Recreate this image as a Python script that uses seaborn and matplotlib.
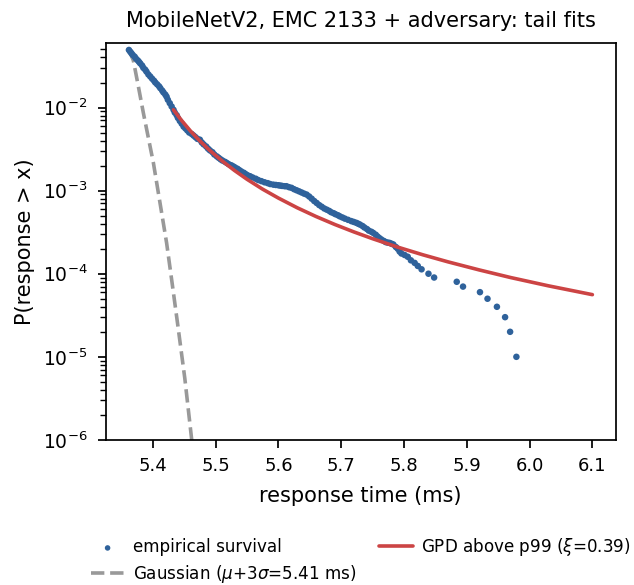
import matplotlib
matplotlib.use("Agg")
import matplotlib.pyplot as plt
import seaborn as sns
import pandas as pd

# ---- data ----
emp_x = [5.362, 5.364, 5.366, 5.368, 5.371, 5.373, 5.376, 5.378, 5.380, 5.383,
         5.385, 5.388, 5.390, 5.393, 5.396, 5.399, 5.402, 5.404, 5.407, 5.410,
         5.412, 5.415, 5.417, 5.420, 5.422, 5.424, 5.427, 5.430, 5.433, 5.435,
         5.438, 5.440, 5.443, 5.446, 5.449, 5.452, 5.455, 5.458, 5.462, 5.465,
         5.468, 5.471, 5.475, 5.478, 5.481, 5.485, 5.488, 5.491, 5.495, 5.498,
         5.502, 5.505, 5.508, 5.511, 5.515, 5.518, 5.521, 5.525, 5.528, 5.531,
         5.535, 5.538, 5.541, 5.545, 5.548, 5.551, 5.555, 5.559, 5.564, 5.568,
         5.573, 5.578, 5.583, 5.587, 5.592, 5.596, 5.600, 5.603, 5.606, 5.610,
         5.613, 5.617, 5.621, 5.625, 5.629, 5.633, 5.637, 5.641, 5.645, 5.649,
         5.653, 5.657, 5.661, 5.665, 5.669, 5.673, 5.677, 5.681, 5.684, 5.688,
         5.691, 5.695, 5.698, 5.702, 5.706, 5.711, 5.716, 5.720, 5.724, 5.727,
         5.730, 5.734, 5.737, 5.741, 5.744, 5.748, 5.751, 5.755, 5.758, 5.761,
         5.764, 5.768, 5.771, 5.774, 5.777, 5.780, 5.783, 5.787, 5.790, 5.793,
         5.796, 5.801, 5.806, 5.811, 5.817, 5.822, 5.828, 5.839, 5.848, 5.884,
         5.894, 5.921, 5.933, 5.948, 5.961, 5.969, 5.979]
emp_y = [0.0493, 0.047, 0.045, 0.043, 0.041, 0.039, 0.037, 0.0355, 0.034, 0.032,
         0.030, 0.0285, 0.027, 0.025, 0.0236, 0.0222, 0.021, 0.020, 0.019, 0.018,
         0.0171, 0.016, 0.0152, 0.0143, 0.0135, 0.0124, 0.0113, 0.0103, 0.0094, 0.0087,
         0.0081, 0.0075, 0.0069, 0.0064, 0.0059, 0.0056, 0.0053, 0.0050, 0.0048, 0.0046,
         0.0044, 0.0042, 0.0041, 0.0038, 0.0036, 0.0034, 0.0032, 0.00305, 0.0029, 0.00272,
         0.00258, 0.00248, 0.00238, 0.0023, 0.00222, 0.00215, 0.00208, 0.00202, 0.00196, 0.0019,
         0.00183, 0.00176, 0.0017, 0.00164, 0.00158, 0.00153, 0.00149, 0.00144, 0.00139, 0.00134,
         0.0013, 0.00126, 0.00123, 0.0012, 0.00118, 0.00117, 0.00116, 0.00115, 0.00114, 0.00113,
         0.00113, 0.0011, 0.00108, 0.00104, 0.00101, 0.00098, 0.00095, 0.00092, 0.000896, 0.00085,
         0.0008, 0.00075, 0.00071, 0.00067, 0.00064, 0.00061, 0.00059, 0.00057, 0.00055, 0.000535,
         0.00052, 0.000505, 0.00049, 0.000475, 0.00046, 0.000445, 0.00043, 0.00042, 0.00041, 0.0004,
         0.00039, 0.000375, 0.00036, 0.000345, 0.00033, 0.00032, 0.00031, 0.000295, 0.00028, 0.000268,
         0.000258, 0.000248, 0.00024, 0.000237, 0.000235, 0.00023, 0.000225, 0.00021, 0.0002, 0.000185,
         0.000175, 0.000168, 0.00016, 0.000145, 0.000135, 0.000124, 0.000113, 0.0001, 9e-5, 8e-5,
         7e-5, 6e-5, 5e-5, 4e-5, 3e-5, 2e-5, 1e-5]

gpd_x = [5.433, 5.445, 5.460, 5.475, 5.490, 5.510, 5.530, 5.550, 5.575, 5.600, 5.630,
         5.660, 5.690, 5.720, 5.750, 5.790, 5.830, 5.870, 5.920, 5.970, 6.030, 6.100]
gpd_y = [0.0094, 0.00712, 0.00522, 0.00396, 0.00308, 0.00229, 0.00175, 0.00137, 0.00104, 0.000814, 0.000622,
         0.000488, 0.000391, 0.000319, 0.000264, 0.000209, 0.000169, 0.000139, 0.000111, 8.99e-5, 7.15e-5, 5.60e-5]

gau_x = [5.362, 5.369, 5.377, 5.385, 5.393, 5.401, 5.411, 5.422, 5.431, 5.440, 5.451, 5.462, 5.468]
gau_y = [0.0493, 0.037, 0.018, 0.0086, 0.0043, 0.00215, 0.00075, 0.000235, 7.5e-5, 2.35e-5, 5.5e-6, 1.0e-6, 4.0e-7]

title = "MobileNetV2, EMC 2133 + adversary: tail fits"
xlabel = "response time (ms)"
ylabel = "P(response > x)"
lab_emp = "empirical survival"
lab_gau = r"Gaussian ($\mu$+3$\sigma$=5.41 ms)"
lab_gpd = r"GPD above p99 ($\xi$=0.39)"

sns.set_theme(style="ticks", context="notebook")
plt.rcParams["font.family"] = ["DejaVu Sans"]
for k in ["text.color", "axes.labelcolor", "xtick.color", "ytick.color", "axes.edgecolor"]:
    plt.rcParams[k] = "black"

fig, ax = plt.subplots(figsize=(6.34, 5.85), dpi=100)
fig.subplots_adjust(left=0.1667, right=0.971, top=0.926, bottom=0.248)

emp = pd.DataFrame({"x": emp_x, "y": emp_y})
gpd = pd.DataFrame({"x": gpd_x, "y": gpd_y})
gau = pd.DataFrame({"x": gau_x, "y": gau_y})

sns.scatterplot(data=emp, x="x", y="y", ax=ax, s=22, color="#2f629b",
                edgecolor="none", label=lab_emp, zorder=3)
sns.lineplot(data=gau, x="x", y="y", ax=ax, sort=False, estimator=None,
             color="#999999", lw=2.6, linestyle="--", label=lab_gau, zorder=2)
sns.lineplot(data=gpd, x="x", y="y", ax=ax, sort=False, estimator=None,
             color="#cc4444", lw=2.6, label=lab_gpd, zorder=4)

ax.set_yscale("log")
ax.set_ylim(1e-6, 0.0593)
ax.set_xlim(5.325, 6.137)
ax.set_xticks([5.4, 5.5, 5.6, 5.7, 5.8, 5.9, 6.0, 6.1])
ax.set_title(title, fontsize=15, pad=12)
ax.set_xlabel(xlabel, fontsize=15, labelpad=8)
ax.set_ylabel(ylabel, fontsize=15, labelpad=6)
ax.tick_params(axis="x", labelsize=13, pad=6)
ax.tick_params(axis="y", which="major", labelsize=13.5, pad=7)

ax.legend(loc="upper center", bbox_to_anchor=(0.5, -0.205), ncol=2,
          frameon=False, fontsize=12.1, columnspacing=1.35, handlelength=2.0,
          handletextpad=0.5, labelspacing=0.4, markerscale=0.85)

fig.savefig("out.png", dpi=100)
